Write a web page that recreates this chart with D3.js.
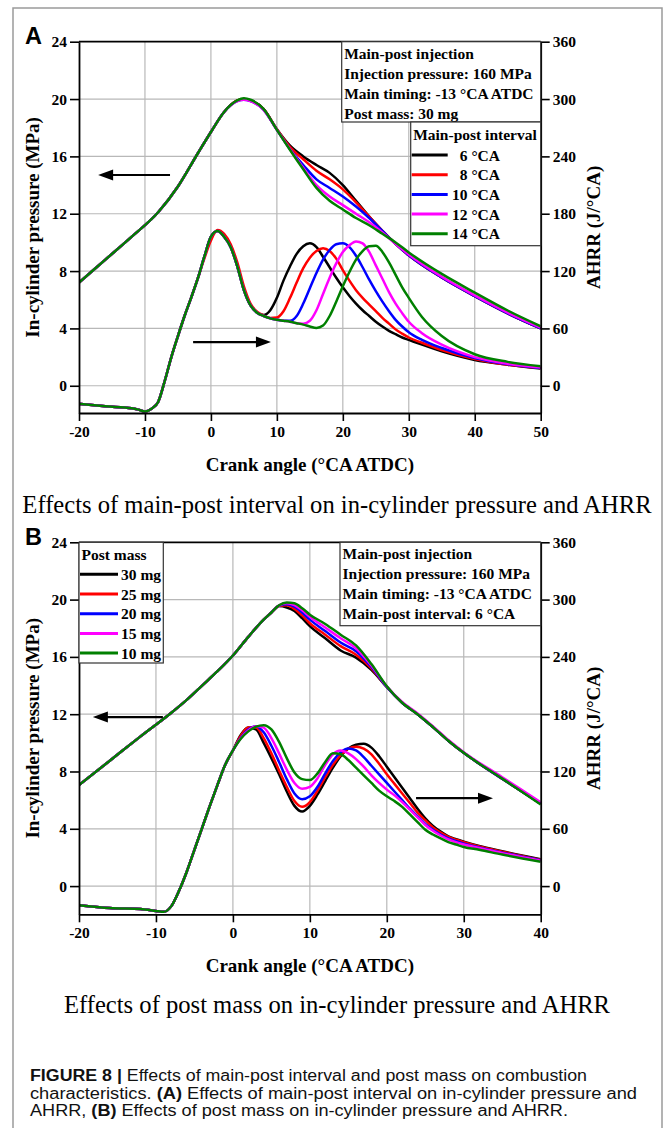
<!DOCTYPE html>
<html><head><meta charset="utf-8">
<script src="https://cdn.jsdelivr.net/npm/d3@7"></script>
<style>body{margin:0;background:#fff}svg{display:block}</style>
</head><body>
<svg id="c" width="665" height="1128"></svg>
<script>
// ---------------- DATA ----------------
const seriesColors = ['#000000', '#ff0000', '#0000ff', '#ff00ff', '#008000'];
const pressureTicks = [0, 4, 8, 12, 16, 20, 24];
const ahrrTicks = [0, 60, 120, 180, 240, 300, 360];
const xTicksA = [-20, -10, 0, 10, 20, 30, 40, 50];
const xTicksB = [-20, -10, 0, 10, 20, 30, 40];
const intervalLabels = ['6 °CA', '8 °CA', '10 °CA', '12 °CA', '14 °CA'];
const massLabels = ['30 mg', '25 mg', '20 mg', '15 mg', '10 mg'];
const infoA = ['Main-post injection', 'Injection pressure: 160 MPa', 'Main timing: -13 °CA ATDC', 'Post mass: 30 mg'];
const infoB = ['Main-post injection', 'Injection pressure: 160 MPa', 'Main timing: -13 °CA ATDC', 'Main-post interval: 6 °CA'];

// Panel A - in-cylinder pressure (MPa)
const crankPA = [-20,-16,-12,-8,-5,-2,0,2,4,5,6,8,10,12,14,16,18,20,22,24,26,28,30,35,40,45,50];
const pA6  = [7.2,8.8,10.4,12.1,13.9,16.2,17.7,19.1,19.9,20.0,19.9,19.3,17.9,16.75,16.0,15.4,14.85,14.0,12.9,11.8,10.8,9.9,9.1,7.55,6.25,5.05,4.0];
const pA8  = [7.2,8.8,10.4,12.1,13.9,16.2,17.7,19.1,19.9,20.0,19.9,19.3,17.9,16.65,15.8,15.0,14.4,13.7,12.8,11.8,10.8,9.9,9.1,7.55,6.25,5.05,4.0];
const pA10 = [7.2,8.8,10.4,12.1,13.9,16.2,17.7,19.1,19.85,19.95,19.85,19.25,17.85,16.5,15.4,14.4,13.8,13.2,12.5,11.7,10.8,9.9,9.1,7.55,6.25,5.05,4.0];
const pA12 = [7.2,8.8,10.4,12.1,13.9,16.2,17.7,19.1,19.85,19.95,19.85,19.25,17.85,16.5,15.2,14.0,13.2,12.6,12.0,11.4,10.7,9.9,9.15,7.6,6.3,5.1,4.05];
const pA14 = [7.2,8.8,10.4,12.1,13.9,16.2,17.7,19.1,19.9,20.05,19.95,19.3,17.85,16.45,15.1,13.8,12.9,12.3,11.7,11.2,10.6,10.0,9.3,7.8,6.5,5.25,4.15];

// Panel A - AHRR (J/°CA)
const crankHA = [-20,-16,-12,-11,-10,-9,-8,-7,-6,-5,-4,-3,-2,-1,0,1,2,3,4,5,6,7,8,9,10,11,12,13,14,15,16,17,18,19,20,21,22,23,24,25,26,27,28,29,30,32,35,40,45,50];
const hA6  = [-19,-21.5,-23.5,-25,-27,-24,-17,5,30,52,73,92,112,135,156,162,156,145,125,100,84,76.5,74,79,92,110,125,138,146,149,145,135,124,113,103,94,86,79,73,67,62,57.5,54,50.5,48,43,36,27,22,18];
const hA8  = [-19,-21.5,-23.5,-25,-27,-24,-17,5,30,52,73,92,112,133,152,163,159,148,129,104,86,77.5,73.5,71,71.5,78,92,108,123,134,141,144,141,133,121,110,100,92,85,78,71,65,59,54.5,50.5,45,37.4,28,22,18.5];
const hA10 = [-19,-21.5,-23.5,-25,-27,-24,-17,5,30,52,73,92,112,135,156,162,156,145,125,100,84,76.5,73,70.5,69,68,68,73,86,102,118,132,142,148,149,145,136,124,111,99,88,78,69,62,56,48,39.5,29,22.5,18.5];
const hA12 = [-19,-21.5,-23.5,-25,-27,-24,-17,5,30,52,73,92,112,135,156,162,156,145,125,100,84,76.5,73,70.5,69,68,67,65.5,65,68,79,96,113,128,140,147,151,149,140,126,112,98,86,76,67,55,43,30,23,19];
const hA14 = [-19,-21.5,-23.5,-25,-27,-24,-17,5,30,52,73,92,112,135,156,162,156,145,125,100,84,76.5,73,70.5,69,68,67,65.5,64,62,60.5,63,73,88,104,119,132,141,146,146.5,140,129,116,103,92,72,52,33,25,20.5];

// Panel B - in-cylinder pressure (MPa)
const crankPB = [-20,-16,-12,-8,-6,-4,-2,0,2,4,5,6,7,8,9,10,12,14,16,18,20,22,24,26,28,30,35,40];
const pB30 = [7.05,8.75,10.45,12.1,13.0,14.0,15.0,16.1,17.4,18.6,19.1,19.55,19.45,19.2,18.7,18.15,17.3,16.45,15.95,15.1,13.9,12.8,12.0,11.1,10.15,9.3,7.5,5.75];
const pB25 = [7.05,8.75,10.45,12.1,13.0,14.0,15.0,16.1,17.4,18.6,19.1,19.55,19.6,19.35,18.9,18.35,17.55,16.75,16.15,15.2,13.9,12.8,12.0,11.1,10.15,9.3,7.5,5.75];
const pB20 = [7.05,8.75,10.45,12.1,13.0,14.0,15.0,16.1,17.4,18.6,19.1,19.58,19.67,19.5,19.1,18.6,17.8,17.0,16.4,15.3,13.9,12.8,12.0,11.1,10.15,9.3,7.5,5.75];
const pB15 = [7.05,8.75,10.45,12.1,13.0,14.0,15.0,16.1,17.4,18.6,19.1,19.6,19.75,19.62,19.25,18.8,18.05,17.3,16.6,15.4,13.95,12.85,12.05,11.15,10.2,9.35,7.6,5.85];
const pB10 = [7.05,8.75,10.45,12.1,13.0,14.0,15.0,16.1,17.4,18.6,19.1,19.6,19.8,19.75,19.4,18.95,18.3,17.55,16.8,15.5,13.95,12.8,12.0,11.1,10.15,9.3,7.5,5.7];

// Panel B - AHRR (J/°CA)
const crankHB = [-20,-16,-12,-10,-9,-8,-7,-6,-5,-4,-3,-2,-1,0,1,2,3,4,5,6,7,8,9,10,11,12,13,14,15,16,17,18,19,20,21,22,23,24,25,26,27,28,29,30,32,35,40];
const hB30 = [-20,-23,-24,-26,-27,-21,-5,15,38,61,84,106,127,142,158,166,164,150,134,117,99,84,78,84,96,110,124,136,144,148,149,145,136,125,114,103,92,81,71,63,57,52,49,46.5,42,36.5,28];
const hB25 = [-20,-23,-24,-26,-27,-21,-5,15,38,61,84,106,127,142,157,166,166,155,139,121,104,89,83,88,100,114,127,137,144,146,144,138,128,117,107,97,87,77,69,61.5,56,51.5,48.5,46,41.5,36,27.5];
const hB20 = [-20,-23,-24,-26,-27,-21,-5,15,38,61,84,106,127,142,155,164,167.5,161,147,130,112,97,91,94,104,118,131,140,144,142,135,126,117,108,99,90,81,73,65,59,54,50,47,44.5,40.5,35,27];
const hB15 = [-20,-23,-24,-26,-27,-21,-5,15,38,61,84,106,127,142,154.5,163,167.5,166,155,139,122,108,102,104,113,127,138,142,139,133,125,116,108,101,95,88,80,72,64,58,53,49,46,43.5,40,34.5,26.5];
const hB10 = [-20,-23,-24,-26,-27,-21,-5,15,38,61,84,106,127,142,154,162,167,168.5,164,151,134,119,112,111,118,130,139,138,132,124,116,108,100,94,89,83,75,67,59,54,50,46,43.5,41,38,33,25.5];

// ---------------- DRAWING ----------------
const svg = d3.select('#c');
const SERIF = '"Liberation Serif","Times New Roman",serif';
const SANS = '"Liberation Sans",Arial,Helvetica,sans-serif';

// outer frame
svg.append('rect').attr('x', 13).attr('y', 8).attr('width', 649).attr('height', 1140)
  .attr('fill', 'none').attr('stroke', '#9a9a9a').attr('stroke-width', 1.5);

function arrow(g, x1, y1, x2, y2) {
  const dir = Math.sign(x2 - x1);
  const hl = 15, hw = 5.5;
  g.append('line').attr('x1', x1).attr('y1', y1).attr('x2', x2 - dir * hl + dir * 2).attr('y2', y2)
    .attr('stroke', '#000').attr('stroke-width', 2.2);
  g.append('path').attr('d', `M${x2},${y2} L${x2 - dir * hl},${y2 - hw} L${x2 - dir * hl},${y2 + hw} Z`).attr('fill', '#000');
}

const fmt = d => String(d);

function panel(o) {
  const L = 79, R = 540.7;
  const g = svg.append('g');
  const x = d3.scaleLinear().domain(o.xDom).range([L, R]);
  const yL = d3.scaleLinear().domain([o.yMin, 24]).range([o.bottom, o.top]);
  const yR = d3.scaleLinear().domain([o.yMin * 15, 360]).range([o.bottom, o.top]);

  // grid
  g.append('g').selectAll('line').data(o.xTicks.slice(1, -1)).join('line')
    .attr('x1', d => x(d)).attr('x2', d => x(d)).attr('y1', o.top).attr('y2', o.bottom)
    .attr('stroke', '#b8b8b8').attr('stroke-width', 1.2);
  g.append('g').selectAll('line').data(pressureTicks.slice(0, -1)).join('line')
    .attr('x1', L).attr('x2', R).attr('y1', d => yL(d)).attr('y2', d => yL(d))
    .attr('stroke', '#b8b8b8').attr('stroke-width', 1.2);

  // curves
  const clipId = 'clip' + o.id;
  g.append('clipPath').attr('id', clipId).append('rect')
    .attr('x', L).attr('y', o.top).attr('width', R - L).attr('height', o.bottom - o.top);
  const cg = g.append('g').attr('clip-path', `url(#${clipId})`);
  const lineP = d3.line().x(d => x(d[0])).y(d => yL(d[1])).curve(d3.curveMonotoneX);
  const lineH = d3.line().x(d => x(d[0])).y(d => yR(d[1])).curve(d3.curveMonotoneX);
  o.pSeries.forEach((s, i) => {
    cg.append('path').attr('d', lineP(o.pX.map((v, k) => [v, s[k]])))
      .attr('fill', 'none').attr('stroke', seriesColors[i]).attr('stroke-width', 2.5);
  });
  o.hSeries.forEach((s, i) => {
    cg.append('path').attr('d', lineH(o.hX.map((v, k) => [v, s[k]])))
      .attr('fill', 'none').attr('stroke', seriesColors[i]).attr('stroke-width', 2.5);
  });

  // axes
  const styleAxis = sel => {
    sel.selectAll('text').attr('font-family', SERIF).attr('font-weight', 'bold').attr('font-size', 15.5).attr('fill', '#000');
    sel.selectAll('line').attr('stroke', '#000').attr('stroke-width', 1.6);
    sel.select('.domain').attr('stroke', '#000').attr('stroke-width', 1.8);
  };
  g.append('g').attr('transform', `translate(${L},0)`)
    .call(d3.axisLeft(yL).tickValues(pressureTicks).tickFormat(fmt).tickSize(9).tickPadding(3).tickSizeOuter(0)).call(styleAxis);
  g.append('g').attr('transform', `translate(${R},0)`)
    .call(d3.axisRight(yR).tickValues(ahrrTicks).tickFormat(fmt).tickSize(9).tickPadding(3).tickSizeOuter(0)).call(styleAxis);
  g.append('g').attr('transform', `translate(0,${o.bottom})`)
    .call(d3.axisBottom(x).tickValues(o.xTicks).tickFormat(fmt).tickSize(8).tickPadding(5).tickSizeOuter(0)).call(styleAxis);
  g.append('line').attr('x1', L).attr('x2', R).attr('y1', o.top).attr('y2', o.top)
    .attr('stroke', '#000').attr('stroke-width', 1.8);

  // axis titles
  const midY = (o.top + o.bottom) / 2;
  g.append('text').attr('transform', `translate(39,${midY}) rotate(-90)`).attr('text-anchor', 'middle')
    .attr('font-family', SERIF).attr('font-weight', 'bold').attr('font-size', 19).text('In-cylinder pressure (MPa)');
  g.append('text').attr('transform', `translate(600,${midY}) rotate(-90)`).attr('text-anchor', 'middle')
    .attr('font-family', SERIF).attr('font-weight', 'bold').attr('font-size', 19).text('AHRR (J/°CA)');
  g.append('text').attr('x', (L + R) / 2).attr('y', o.bottom + 58).attr('text-anchor', 'middle')
    .attr('font-family', SERIF).attr('font-weight', 'bold').attr('font-size', 19).text('Crank angle (°CA ATDC)');

  // panel letter
  g.append('text').attr('x', 25).attr('y', o.top + 2.5).attr('font-family', SANS).attr('font-weight', 'bold')
    .attr('font-size', 23.5).text(o.id);

  // subtitle
  g.append('text').attr('x', 337).attr('y', o.subY).attr('text-anchor', 'middle')
    .attr('font-family', SERIF).attr('font-size', 24.6).text(o.subtitle);

  // info box
  const ib = o.info;
  g.append('rect').attr('x', ib.x).attr('y', o.top).attr('width', R - ib.x).attr('height', ib.h)
    .attr('fill', '#fff').attr('stroke', '#333').attr('stroke-width', 1.2);
  g.append('g').selectAll('text').data(ib.lines).join('text')
    .attr('x', ib.x + 2.5).attr('y', (d, i) => o.top + 17 + i * 20)
    .attr('font-family', SERIF).attr('font-weight', 'bold').attr('font-size', 15.5).text(d => d);

  // legend
  const lg = o.legend;
  g.append('rect').attr('x', lg.x).attr('y', lg.y).attr('width', lg.w).attr('height', lg.h)
    .attr('fill', '#fff').attr('stroke', '#333').attr('stroke-width', 1.2);
  g.append('text').attr('x', lg.x + 2.5).attr('y', lg.y + 18).attr('font-family', SERIF).attr('font-weight', 'bold')
    .attr('font-size', 15.5).text(lg.title);
  const items = g.append('g').selectAll('g').data(lg.labels).join('g')
    .attr('transform', (d, i) => `translate(0,${lg.y + lg.first + i * 19.7})`);
  items.append('line').attr('x1', lg.x + 1).attr('x2', lg.x + lg.lineW).attr('y1', 0).attr('y2', 0)
    .attr('stroke', (d, i) => seriesColors[i]).attr('stroke-width', 3);
  items.append('text').attr('x', lg.textX).attr('y', 5.5).attr('text-anchor', lg.anchor)
    .attr('font-family', SERIF).attr('font-weight', 'bold').attr('font-size', 15.5).text(d => d);

  // arrows (in data coordinates)
  o.arrows.forEach(a => {
    const yy = yL(a.p);
    arrow(g, x(a.from), yy, x(a.to), yy);
  });
}

panel({
  id: 'A', top: 41.7, bottom: 413, yMin: -1.9, xDom: [-20, 50], xTicks: xTicksA,
  pX: crankPA, pSeries: [pA6, pA8, pA10, pA12, pA14],
  hX: crankHA, hSeries: [hA6, hA8, hA10, hA12, hA14],
  subtitle: 'Effects of main-post interval on in-cylinder pressure and AHRR', subY: 513,
  info: { x: 341.7, h: 80.3, lines: infoA },
  legend: { x: 410.7, y: 122, w: 130, h: 123.7, title: 'Main-post interval', labels: intervalLabels,
            first: 33, lineW: 37, textX: 500, anchor: 'end' },
  arrows: [{ from: -6.2, to: -17.1, p: 14.7 }, { from: -2.7, to: 9.1, p: 3.05 }]
});

panel({
  id: 'B', top: 542.3, bottom: 914.3, yMin: -1.97, xDom: [-20, 40], xTicks: xTicksB,
  pX: crankPB, pSeries: [pB30, pB25, pB20, pB15, pB10],
  hX: crankHB, hSeries: [hB30, hB25, hB20, hB15, hB10],
  subtitle: 'Effects of post mass on in-cylinder pressure and AHRR', subY: 1013,
  info: { x: 340, h: 83.4, lines: infoB },
  legend: { x: 79, y: 542.3, w: 84.3, h: 120.7, title: 'Post mass', labels: massLabels,
            first: 32, lineW: 39, textX: 121, anchor: 'start' },
  arrows: [{ from: -9.1, to: -18.2, p: 11.8 }, { from: 23.8, to: 33.8, p: 6.14 }]
});

// caption
const capLines = [
  [['FIGURE 8', true], [' | ', true], ['Effects of main-post interval and post mass on combustion', false]],
  [['characteristics. ', false], ['(A)', true], [' Effects of main-post interval on in-cylinder pressure and', false]],
  [['AHRR, ', false], ['(B)', true], [' Effects of post mass on in-cylinder pressure and AHRR.', false]]
];
const capWidths = [557, 607, 538];
capLines.forEach((parts, i) => {
  const t = svg.append('text').attr('x', 30).attr('y', 1081 + i * 17.5)
    .attr('font-family', SANS).attr('font-size', 16).attr('fill', '#111');
  parts.forEach(p => t.append('tspan').attr('font-weight', p[1] ? 'bold' : 'normal').text(p[0]));
  const w = t.node().getComputedTextLength();
  if (w > 0) t.attr('textLength', capWidths[i]).attr('lengthAdjust', 'spacingAndGlyphs');
});
</script>
</body></html>
